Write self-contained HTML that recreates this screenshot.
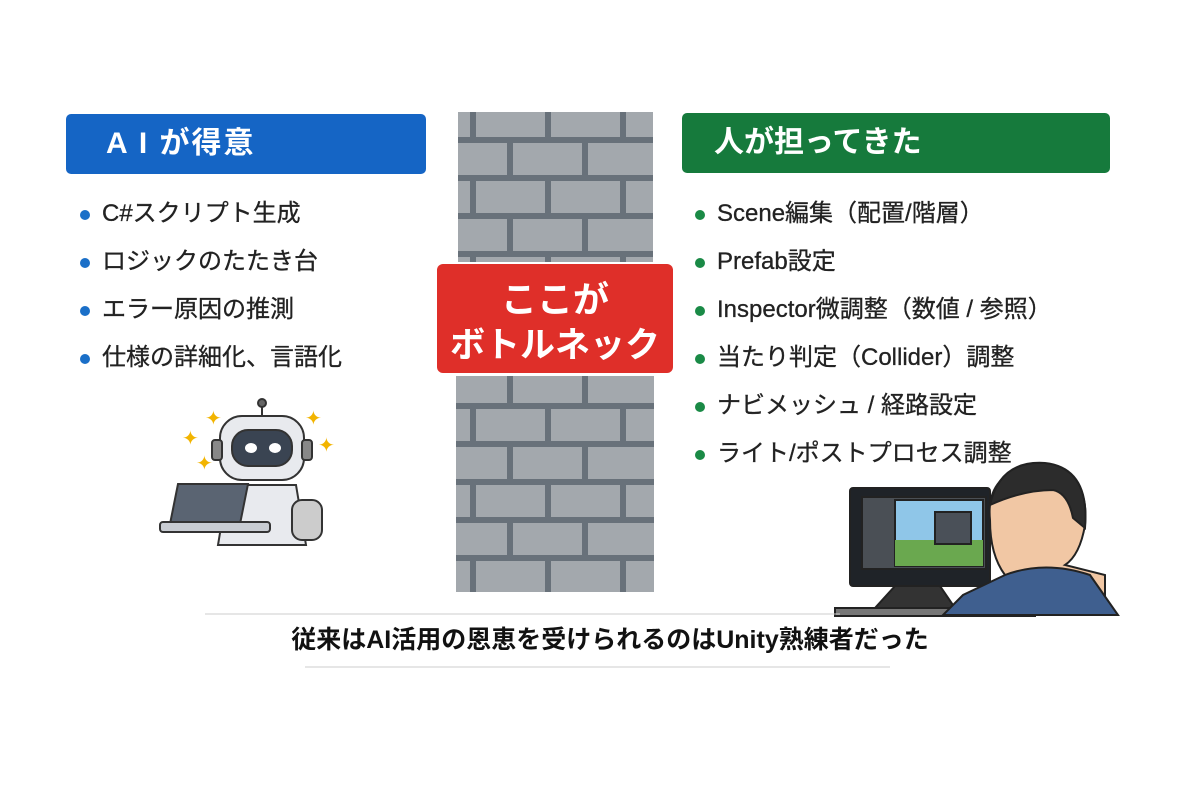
<!DOCTYPE html>
<html><head><meta charset="utf-8"><style>
body{margin:0;width:1200px;height:800px;background:#fff;position:relative;overflow:hidden;font-family:"Liberation Sans","Noto Sans CJK JP",sans-serif}
.hd{position:absolute;height:60px;border-radius:5px;color:#fff;font-weight:bold;font-size:30px;line-height:60px}
ul{position:absolute;margin:0;padding:0;list-style:none;font-size:24px;color:#222}
li{height:48px;line-height:48px;position:relative;padding-left:22px;-webkit-text-stroke:0.3px #222}
li:before{content:"";position:absolute;left:0;top:20px;width:10px;height:10px;border-radius:50%}
.l li:before{background:#1a6fc8}.r li:before{background:#1a8a46}
</style></head><body>
<div class="hd" style="left:66px;top:114px;width:360px;background:#1565c5;padding-left:40px;box-sizing:border-box;letter-spacing:2px">A I が得意</div>
<div class="hd" style="left:682px;top:113px;width:428px;background:#167a3c;padding-left:32px;box-sizing:border-box">人が担ってきた</div>
<ul class="l" style="left:80px;top:190px"><li>C#スクリプト生成</li><li>ロジックのたたき台</li><li>エラー原因の推測</li><li>仕様の詳細化、言語化</li></ul>
<ul class="r" style="left:695px;top:190px"><li>Scene編集（配置/階層）</li><li>Prefab設定</li><li>Inspector微調整（数値 / 参照）</li><li>当たり判定（Collider）調整</li><li>ナビメッシュ / 経路設定</li><li>ライト/ポストプロセス調整</li></ul>
<svg style="position:absolute;left:0;top:0" width="1200" height="800">
<defs><pattern id="b" x="458" y="105" width="150" height="76" patternUnits="userSpaceOnUse">
<rect width="150" height="76" fill="#68717a"/>
<rect x="18" y="0" width="69" height="32" fill="#a3a8ad"/><rect x="93" y="0" width="69" height="32" fill="#a3a8ad"/><rect x="-57" y="0" width="69" height="32" fill="#a3a8ad"/>
<rect x="-20" y="38" width="69" height="32" fill="#a3a8ad"/><rect x="55" y="38" width="69" height="32" fill="#a3a8ad"/><rect x="130" y="38" width="69" height="32" fill="#a3a8ad"/>
</pattern></defs>
<rect x="458" y="112" width="195" height="150" fill="url(#b)"/>
<rect x="456" y="376" width="198" height="216" fill="url(#b)"/>
<rect x="437" y="264" width="236" height="109" rx="6" fill="#df2f29"/>
<text x="555" y="312" font-size="36" font-weight="bold" fill="#fff" text-anchor="middle" font-family="Liberation Sans,Noto Sans CJK JP,sans-serif">ここが</text>
<text x="555" y="357" font-size="35" font-weight="bold" fill="#fff" text-anchor="middle" font-family="Liberation Sans,Noto Sans CJK JP,sans-serif">ボトルネック</text>
<g stroke="#333" stroke-width="2">
<line x1="262" y1="400" x2="262" y2="418"/><circle cx="262" cy="403" r="4" fill="#666"/>
<rect x="220" y="416" width="84" height="64" rx="22" fill="#e8eaee"/>
<rect x="232" y="430" width="60" height="36" rx="16" fill="#3a4452"/>
<rect x="212" y="440" width="10" height="20" rx="3" fill="#888"/><rect x="302" y="440" width="10" height="20" rx="3" fill="#888"/>
<path d="M228 485 h68 l10 60 h-88z" fill="#e8eaee"/>
<path d="M178 484 h70 l-8 40 h-70z" fill="#5a6472"/>
<rect x="160" y="522" width="110" height="10" rx="3" fill="#c8ccd2"/>
<rect x="292" y="500" width="30" height="40" rx="10" fill="#ccc"/>
</g>
<ellipse cx="251" cy="448" rx="6" ry="5" fill="#fff"/><ellipse cx="275" cy="448" rx="6" ry="5" fill="#fff"/>
<g fill="#f2b400" font-size="20"><text x="182" y="445">✦</text><text x="205" y="425">✦</text><text x="196" y="470">✦</text><text x="305" y="425">✦</text><text x="318" y="452">✦</text></g>
<g stroke="#222" stroke-width="2">
<rect x="850" y="488" width="140" height="98" rx="3" fill="#1f2328"/>
<rect x="862" y="497" width="124" height="72" fill="#4a4f55"/>
<rect x="895" y="500" width="88" height="66" fill="#8fc6e8"/>
<rect x="895" y="540" width="88" height="26" fill="#6aa84f" stroke="none"/>
<rect x="935" y="512" width="36" height="32" fill="#4a5058"/>
<path d="M895 586 l-20 22 h80 l-15-22z" fill="#333"/>
<path d="M835 608 h200 v8 h-200z" fill="#777"/>
<path d="M990 520 q-5 -50 50 -55 q50 5 45 60 q-5 30 -20 40 l40 10 v40 h-120 l20 -40 q-15 -20 -15 -55z" fill="#f1c7a4"/>
<path d="M990 505 q10 -45 55 -42 q45 5 40 65 l-12 -10 q-5 -25 -20 -28 q-30 0 -63 15z" fill="#2c2c2c"/>
<path d="M1005 575 q40 -15 85 0 l28 40 h-175 l20 -20z" fill="#3f5f8f"/>
</g>
<line x1="205" y1="614" x2="840" y2="614" stroke="#ccc"/>
<line x1="305" y1="667" x2="890" y2="667" stroke="#ccc"/>
<text x="610" y="648" font-size="25" font-weight="bold" fill="#111" text-anchor="middle" font-family="Liberation Sans,Noto Sans CJK JP,sans-serif">従来はAI活用の恩恵を受けられるのはUnity熟練者だった</text>
</svg>
</body></html>
